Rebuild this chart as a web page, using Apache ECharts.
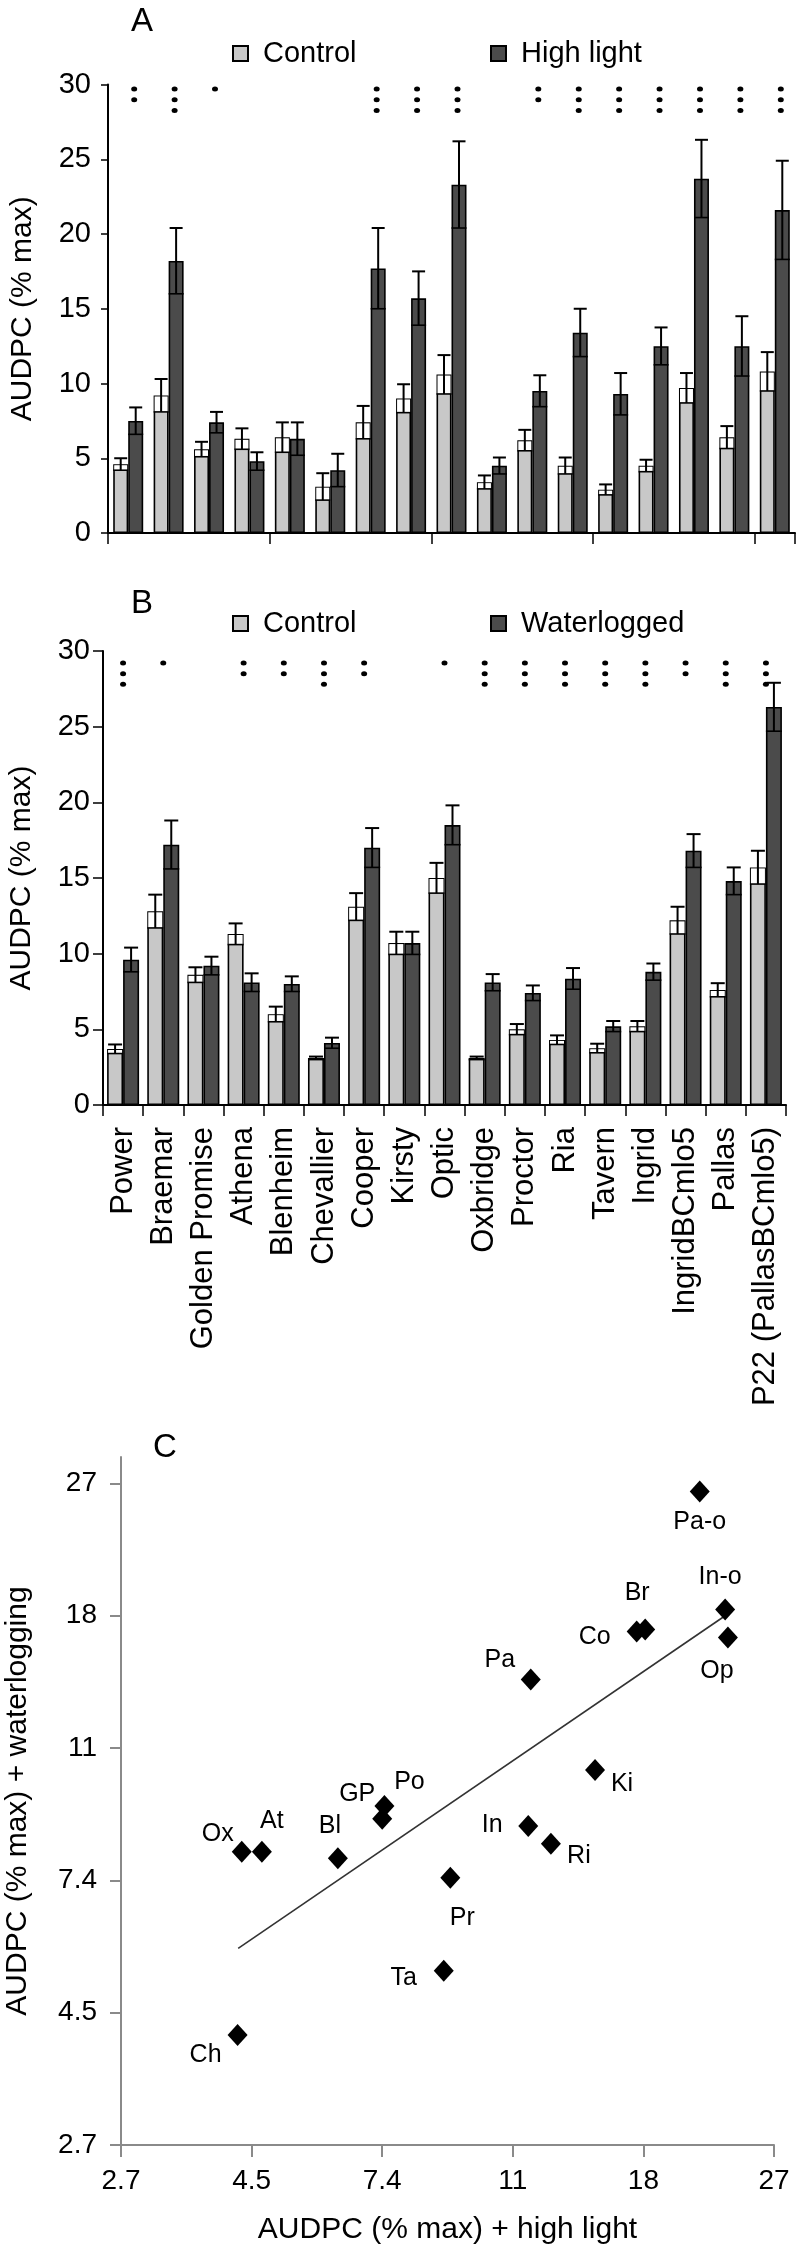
<!DOCTYPE html>
<html>
<head>
<meta charset="utf-8">
<script src="https://cdn.jsdelivr.net/npm/echarts@6/dist/echarts.min.js"></script>
<style>
html,body{margin:0;padding:0;background:#fff;}
#chart{width:799px;height:2248px;}
</style>
</head>
<body>
<div id="chart"></div>
<script>
// ---------------- DATA ----------------
const categories = ['Power','Braemar','Golden Promise','Athena','Blenheim','Chevallier','Cooper','Kirsty','Optic','Oxbridge','Proctor','Ria','Tavern','Ingrid','IngridBCmlo5','Pallas','P22 (PallasBCmlo5)'];

// Panel A
const controlA      = [4.6, 9.2, 5.6, 6.3, 6.4, 3.1, 7.4, 9.0, 10.6, 3.4, 6.2, 4.5, 2.9, 4.5, 9.7, 6.4, 10.8];
const controlAErr   = [0.4, 1.1, 0.5, 0.7, 1.0, 0.9, 1.1, 0.95, 1.3, 0.45, 0.7, 0.55, 0.35, 0.4, 1.0, 0.75, 1.3];
const highLight     = [7.5, 18.2, 7.4, 4.8, 6.3, 4.2, 17.7, 15.7, 23.3, 4.5, 9.5, 13.4, 9.3, 12.5, 23.7, 12.5, 21.6];
const highLightErr  = [0.9, 2.2, 0.7, 0.6, 1.1, 1.1, 2.7, 1.8, 2.9, 0.55, 1.05, 1.6, 1.4, 1.25, 2.6, 2.0, 3.3];
const sigA          = [2, 3, 1, 0, 0, 0, 3, 3, 3, 0, 2, 3, 3, 3, 3, 3, 3];

// Panel B
const controlB        = [3.7, 12.8, 8.6, 11.3, 6.0, 3.1, 13.1, 10.7, 15.0, 3.1, 5.0, 4.3, 3.75, 5.2, 12.2, 7.6, 15.7];
const controlBErr     = [0.3, 1.1, 0.5, 0.7, 0.5, 0.1, 0.9, 0.75, 1.0, 0.1, 0.35, 0.3, 0.3, 0.35, 0.9, 0.45, 1.1];
const waterlogged     = [9.6, 17.2, 9.2, 8.1, 8.0, 4.1, 17.0, 10.7, 18.5, 8.1, 7.4, 8.35, 5.2, 8.8, 16.8, 14.8, 26.3];
const waterloggedErr  = [0.8, 1.6, 0.6, 0.6, 0.5, 0.35, 1.3, 0.75, 1.3, 0.55, 0.5, 0.7, 0.35, 0.55, 1.1, 0.9, 1.6];
const sigB            = [3, 1, 0, 2, 2, 3, 2, 0, 1, 3, 3, 3, 3, 3, 2, 3, 3];

const yTicksAB = [0, 5, 10, 15, 20, 25, 30];

// Panel C (AUDPC + high light, AUDPC + waterlogging)
const pointNamesC = ['Po','Br','GP','At','Bl','Ch','Co','Ki','Op','Ox','Pr','Ri','Ta','In','In-o','Pa','Pa-o'];
const highLightC  = [7.45, 18.1, 7.4, 4.68, 6.25, 4.26, 17.55, 15.0, 23.4, 4.33, 9.1, 12.7, 8.92, 11.66, 23.2, 11.77, 21.44];
const waterlogC   = [9.25, 17.1, 8.9, 8.06, 7.91, 4.13, 16.97, 10.3, 16.6, 8.06, 7.46, 8.26, 5.27, 8.71, 18.35, 14.2, 26.34];
const trendLineC  = [[4.27, 5.73], [23.2, 18.0]];
const tickValuesC = [2.7, 4.5, 7.4, 11, 18, 27];
const tickLabelsC = ['2.7', '4.5', '7.4', '11', '18', '27'];

// ---------------- STYLE ----------------
const FONT = '"Liberation Sans", Arial, Helvetica, sans-serif';
const LIGHT = '#c8c8c8';
const DARK = '#4b4b4b';
const BAR_W_A = 15, BAR_W_B = 16;
const dotLevelsA = [29.7, 28.98, 28.26];
const dotLevelsB = [29.2, 28.5, 27.8];
const labelOffsetC = {
  'Pa-o':[0,31], 'In-o':[-5,-32], 'Br':[-8,-36], 'Co':[-42,6], 'Op':[-11,34], 'Pa':[-31,-19],
  'Ki':[27,14], 'Po':[25,-24], 'GP':[-25,-25], 'Ox':[-24,-18], 'At':[10,-31], 'Bl':[-8,-32],
  'In':[-36,-1], 'Ri':[28,12], 'Pr':[12,40], 'Ta':[-40,7], 'Ch':[-32,20]
};

// axis of panel C: ticks are equally spaced, positions interpolated logarithmically between labelled ticks
function axisPosC(v) {
  let i = 0;
  while (i < tickValuesC.length - 2 && v > tickValuesC[i + 1]) i++;
  return i + Math.log(v / tickValuesC[i]) / Math.log(tickValuesC[i + 1] / tickValuesC[i]);
}

function errorSeries(axisIdx, means, errs, offset, barW, whiteBox) {
  return {
    type: 'custom', xAxisIndex: axisIdx, yAxisIndex: axisIdx, z: 5, silent: true,
    data: means.map((m, i) => [i, m, errs[i]]),
    renderItem: function (params, api) {
      const i = api.value(0), m = api.value(1), e = api.value(2);
      const pm = api.coord([i, m]);
      const x = pm[0] + offset;
      const y = pm[1];
      const yTop = api.coord([i, m + e])[1];
      const yBot = api.coord([i, m - e])[1];
      const half = barW / 2;
      const ch = [];
      if (whiteBox) {
        ch.push({type: 'rect', shape: {x: x - half + 1, y: y + 1, width: barW - 2, height: Math.max(0, yBot - y - 1)}, style: {fill: '#ffffff'}});
      }
      ch.push({type: 'line', shape: {x1: x, y1: yTop, x2: x, y2: yBot}, style: {stroke: '#000', lineWidth: 2}});
      ch.push({type: 'line', shape: {x1: x - half + 1, y1: yTop, x2: x + half - 1, y2: yTop}, style: {stroke: '#000', lineWidth: 2}});
      ch.push({type: 'line', shape: {x1: x - half, y1: yBot, x2: x + half, y2: yBot}, style: {stroke: '#000', lineWidth: 1.6}});
      return {type: 'group', children: ch};
    }
  };
}

function dotData(counts, levels) {
  const d = [];
  counts.forEach((n, i) => { for (let k = 0; k < n; k++) d.push([i, levels[k]]); });
  return d;
}

function catAxis(gridIndex, showLabels) {
  return {
    type: 'category', gridIndex: gridIndex, data: categories,
    axisLine: {show: true, lineStyle: {color: '#000', width: 2}},
    axisTick: {show: true, length: 11, lineStyle: {color: '#000', width: 1.5}},
    axisLabel: showLabels ? {show: true, interval: 0, rotate: 90, fontSize: 31, fontFamily: FONT, color: '#000', margin: 22} : {show: false},
    splitLine: {show: false}
  };
}

function valAxisAB(gridIndex, margin, tickLen, nameGap) {
  return {
    type: 'value', gridIndex: gridIndex, min: yTicksAB[0], max: yTicksAB[yTicksAB.length - 1], interval: 5,
    name: 'AUDPC (% max)', nameLocation: 'middle', nameGap: nameGap,
    nameTextStyle: {fontSize: 30, fontFamily: FONT, color: '#000'},
    axisLine: {show: true, lineStyle: {color: '#000', width: 2}},
    axisTick: {show: true, length: tickLen, lineStyle: {color: '#000', width: 1.5}},
    axisLabel: {fontSize: 29, fontFamily: FONT, color: '#000', margin: margin},
    splitLine: {show: false}
  };
}

function legendItem(name, left, top) {
  return {
    data: [name], left: left, top: top, icon: 'rect', itemWidth: 15, itemHeight: 15,
    selectedMode: false, padding: 0,
    textStyle: {fontSize: 29, fontFamily: FONT, color: '#000', padding: [0, 0, 0, 10]}
  };
}

const scatterDataC = pointNamesC.map((n, i) => ({
  name: n,
  value: [axisPosC(highLightC[i]), axisPosC(waterlogC[i])],
  label: {offset: labelOffsetC[n]}
}));

const option = {
  animation: false,
  backgroundColor: '#ffffff',
  textStyle: {fontFamily: FONT},
  grid: [
    {left: 108, top: 84.5, width: 687, height: 448.5, containLabel: false, outerBoundsMode: 'none'},
    {left: 103, top: 651, width: 683, height: 454, containLabel: false, outerBoundsMode: 'none'},
    {left: 121, top: 1457, width: 653, height: 688, containLabel: false, outerBoundsMode: 'none'}
  ],
  legend: [
    legendItem('Control', 232, 39),
    legendItem('High light', 490, 39),
    legendItem('Control', 232, 609),
    legendItem('Waterlogged', 490, 609)
  ],
  graphic: [
    {type: 'text', x: 142, y: 22, style: {text: 'A', fontSize: 33, fontFamily: FONT, fill: '#000', align: 'center', verticalAlign: 'middle'}},
    {type: 'text', x: 142, y: 604, style: {text: 'B', fontSize: 33, fontFamily: FONT, fill: '#000', align: 'center', verticalAlign: 'middle'}},
    {type: 'text', x: 165, y: 1448, style: {text: 'C', fontSize: 33, fontFamily: FONT, fill: '#000', align: 'center', verticalAlign: 'middle'}}
  ],
  xAxis: [
    catAxis(0, false),
    catAxis(1, true),
    {
      type: 'value', gridIndex: 2, min: 0, max: tickValuesC.length - 1, interval: 1,
      name: 'AUDPC (% max) + high light', nameLocation: 'middle', nameGap: 70,
      nameTextStyle: {fontSize: 30, fontFamily: FONT, color: '#000'},
      axisLine: {show: true, lineStyle: {color: '#8a8a8a', width: 2}},
      axisTick: {show: true, length: 12, lineStyle: {color: '#8a8a8a', width: 2}},
      axisLabel: {fontSize: 28, fontFamily: FONT, color: '#000', margin: 22,
        formatter: v => tickLabelsC[Math.round(v)]},
      splitLine: {show: false}
    }
  ],
  yAxis: [
    valAxisAB(0, 17, 7, 70),
    valAxisAB(1, 13, 10, 66),
    {
      type: 'value', gridIndex: 2, min: 0, max: 5.2, interval: 1,
      name: 'AUDPC (% max) + waterlogging', nameLocation: 'middle', nameGap: 88,
      nameTextStyle: {fontSize: 30, fontFamily: FONT, color: '#000'},
      axisLine: {show: true, lineStyle: {color: '#8a8a8a', width: 2}},
      axisTick: {show: true, length: 11, lineStyle: {color: '#8a8a8a', width: 2}, customValues: [0, 1, 2, 3, 4, 5]},
      axisLabel: {fontSize: 28, fontFamily: FONT, color: '#000', margin: 24, customValues: [0, 1, 2, 3, 4, 5],
        formatter: v => tickLabelsC[Math.round(v)]},
      splitLine: {show: false}
    }
  ],
  series: [
    // Panel A bars
    {type: 'bar', name: 'Control', xAxisIndex: 0, yAxisIndex: 0, data: controlA, barWidth: BAR_W_A, barGap: '0%',
      itemStyle: {color: LIGHT, borderColor: '#000', borderWidth: 1.6}},
    {type: 'bar', name: 'High light', xAxisIndex: 0, yAxisIndex: 0, data: highLight, barWidth: BAR_W_A, barGap: '0%',
      itemStyle: {color: DARK, borderColor: '#000', borderWidth: 1.6}},
    errorSeries(0, controlA, controlAErr, -BAR_W_A / 2, BAR_W_A, true),
    errorSeries(0, highLight, highLightErr, BAR_W_A / 2, BAR_W_A, false),
    {type: 'scatter', xAxisIndex: 0, yAxisIndex: 0, data: dotData(sigA, dotLevelsA), symbol: 'circle',
      symbolSize: [6, 5], symbolOffset: [6, 0], itemStyle: {color: '#000', opacity: 1}, silent: true, z: 6},
    // Panel B bars
    {type: 'bar', name: 'Control', xAxisIndex: 1, yAxisIndex: 1, data: controlB, barWidth: BAR_W_B, barGap: '0%',
      itemStyle: {color: LIGHT, borderColor: '#000', borderWidth: 1.6}},
    {type: 'bar', name: 'Waterlogged', xAxisIndex: 1, yAxisIndex: 1, data: waterlogged, barWidth: BAR_W_B, barGap: '0%',
      itemStyle: {color: DARK, borderColor: '#000', borderWidth: 1.6}},
    errorSeries(1, controlB, controlBErr, -BAR_W_B / 2, BAR_W_B, true),
    errorSeries(1, waterlogged, waterloggedErr, BAR_W_B / 2, BAR_W_B, false),
    {type: 'scatter', xAxisIndex: 1, yAxisIndex: 1, data: dotData(sigB, dotLevelsB), symbol: 'circle',
      symbolSize: [6, 5], itemStyle: {color: '#000', opacity: 1}, silent: true, z: 6},
    // Panel C
    {type: 'line', xAxisIndex: 2, yAxisIndex: 2, data: trendLineC.map(p => [axisPosC(p[0]), axisPosC(p[1])]),
      symbol: 'none', lineStyle: {color: '#333', width: 1.6}, silent: true, z: 2},
    {type: 'scatter', xAxisIndex: 2, yAxisIndex: 2, data: scatterDataC, symbol: 'diamond', symbolSize: [20, 22],
      itemStyle: {color: '#000', opacity: 1}, z: 3,
      label: {show: true, position: 'inside', formatter: p => p.name, fontSize: 25, fontFamily: FONT, color: '#000'}}
  ]
};

const chart = echarts.init(document.getElementById('chart'), null, {renderer: 'canvas'});
chart.setOption(option);
</script>
</body>
</html>
